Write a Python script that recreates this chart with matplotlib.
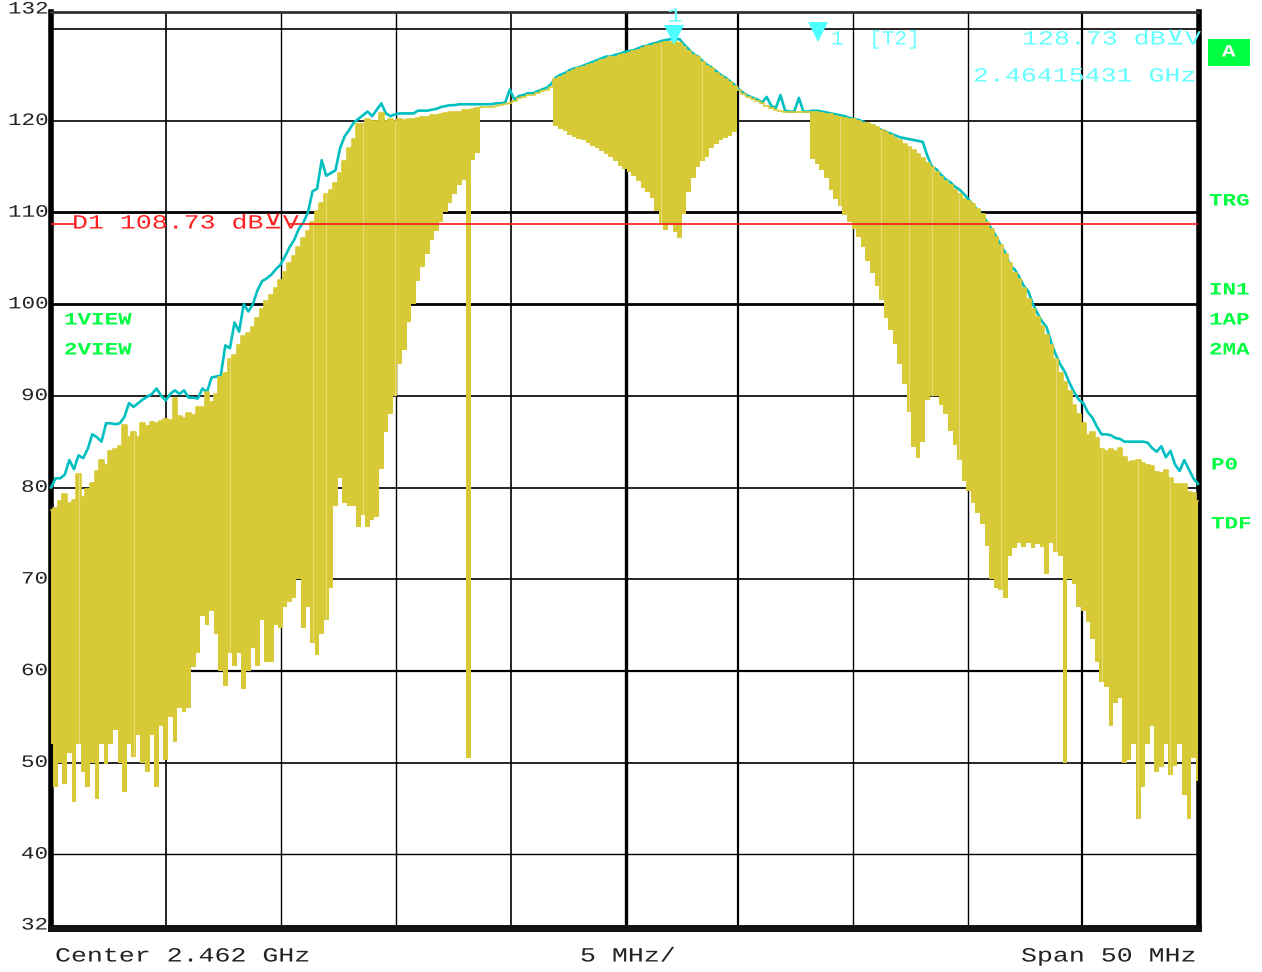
import numpy as np
import matplotlib
matplotlib.use('Agg')
import matplotlib.pyplot as plt
import matplotlib.patheffects as pe
from matplotlib.patches import Rectangle
from matplotlib.transforms import Affine2D

W, H = 1262, 972

# Trace 2 (clear write), upper edge of the sweep in dBuV, one value per 0.2 MHz
yellow_top = [
    77.5, 77.8, 78.5, 79.3, 78.3, 78.6, 81.5, 79, 79.8, 80.5,
    81.8, 83, 82.5, 84, 84.2, 84.5, 86.8, 85.5, 86, 85.5,
    87, 86.7, 87.1, 87, 87.3, 87.5, 87.4, 89.8, 87.8, 87.6,
    88.1, 87.9, 88.8, 88.8, 90.4, 89.3, 90.2, 92, 92.5, 94,
    94.5, 95.5, 96.5, 96.8, 97.5, 98.5, 99.5, 100.3, 101, 101.8,
    102.6, 103.5, 104.5, 105.3, 106.2, 107.2, 108, 109, 110.2, 111,
    112, 112.4, 113.2, 114.3, 115.6, 117, 118, 119.6, 119.6, 120.2,
    120, 120, 120.8, 120, 120.2, 120, 120.2, 120.1, 120.2, 120.2,
    120.3, 120.4, 120.4, 120.6, 120.6, 120.7, 120.8, 120.9, 121, 121,
    121.2, 121.2, 121.3, 121.4, 121.5, 121.5, 121.5, 121.6, 121.7, 121.8,
    121.9, 122.2, 122.5, 122.6, 122.8, 122.8, 123, 123.2, 123.3, 123.7,
    124.6, 124.8, 125, 125.3, 125.5, 125.7, 125.9, 126.1, 126.2, 126.4,
    126.6, 126.7, 126.9, 127, 127.2, 127.3, 127.4, 127.6, 127.7, 127.9,
    128.1, 128.2, 128.4, 128.5, 128.6, 128.6, 128.6, 128.5, 128, 127.6,
    127.2, 126.9, 126.4, 126, 125.7, 125.2, 124.9, 124.6, 124.2, 123.8,
    123.3, 122.9, 122.6, 122.4, 122.1, 121.9, 121.6, 121.4, 121.2, 121.1,
    121, 120.9, 120.9, 120.9, 120.9, 120.9, 121, 120.9, 120.8, 120.7,
    120.7, 120.5, 120.4, 120.3, 120.2, 120.2, 120, 119.8, 119.7, 119.5,
    119.3, 119, 118.8, 118.5, 118.1, 117.9, 117.5, 117.1, 116.8, 116.4,
    115.9, 115.4, 115, 114.4, 113.9, 113.4, 113, 112.5, 112, 111.5,
    111.2, 110.9, 110.4, 109.8, 109, 108.2, 107.3, 106.4, 105.5, 104.5,
    103.4, 102.7, 101.8, 100.6, 99.5, 98.6, 97.6, 96.6, 95.5, 94,
    92.5, 91.5, 90.5, 89, 88, 87, 85.7, 86, 85.4, 84.2,
    84, 84.2, 84, 84.3, 83.3, 82.8, 82.9, 83, 82.7, 82.5,
    82.3, 81.7, 81.6, 81.9, 81, 80.4, 80.4, 80.4, 79.5, 79.4,
    78.5]

# lower edge of the same sweep
yellow_bot = [
    52, 47.3, 50, 47.7, 51, 45.7, 52, 49, 47.3, 50,
    46, 52, 49.8, 52, 53.5, 50, 46.8, 52, 50.6, 53,
    50, 49, 53, 47.3, 54, 50.3, 55, 52.2, 56, 55.5,
    56, 60.4, 62, 66, 65, 66.5, 64, 60, 58.3, 62,
    60.5, 62, 58, 60, 62.5, 60.5, 65.5, 61, 61, 65,
    64.7, 67, 67.5, 68, 70, 64.7, 67, 63, 61.7, 64,
    65.6, 69, 78, 81, 78.3, 78, 78, 75.7, 77, 75.7,
    76.5, 76.8, 82, 86, 88, 90, 93.5, 95, 98, 100,
    102.5, 104, 105.5, 107, 108, 109, 110, 111, 112, 113,
    113.5, 50.5, 115.7, 116.5, 121.5, 121.5, 121.5, 121.6, 121.7, 121.8,
    121.9, 122.2, 122.5, 122.6, 122.8, 122.8, 123, 123.2, 123.3, 123.7,
    119.4, 119.1, 118.9, 118.4, 118.2, 118, 117.9, 117.6, 117.3, 117,
    116.7, 116.4, 116, 115.6, 115.1, 114.7, 114.4, 114, 113.4, 112.7,
    112.2, 111.6, 110.2, 108.9, 108.1, 108.6, 107.9, 107.2, 109.8, 112.2,
    113.8, 115, 115.6, 116.1, 117, 117.5, 117.9, 118.1, 118.3, 118.8,
    123.3, 122.9, 122.6, 122.4, 122.1, 121.9, 121.6, 121.4, 121.2, 121.1,
    121, 120.9, 120.9, 120.9, 120.9, 120.9, 115.8, 115.3, 114.6, 113.8,
    112.5, 111.5, 110.7, 109.7, 109, 108.2, 107.3, 106.2, 104.7, 103.4,
    102, 100.5, 98.5, 97.2, 95.7, 93.5, 91.3, 88.2, 84.4, 83.2,
    85, 89.5, 90, 90, 89, 88, 86.2, 84.6, 83, 80.7,
    79.6, 78.3, 77.2, 76, 73.6, 70, 69, 68.8, 68, 72.5,
    73.4, 73.9, 73.5, 73.9, 73.4, 73.8, 73.5, 70.6, 74, 73,
    72.5, 50, 70, 69.5, 67, 66.5, 65.3, 63.5, 61, 58.8,
    58.2, 54, 56.5, 57, 50, 50.3, 52, 43.8, 47.3, 52,
    54, 49, 49.5, 52, 48.6, 49.6, 52, 46.5, 43.8, 50.5,
    48]

# Trace 1 (max hold)
cyan_trace = [
    80, 81, 81, 81.4, 83, 82, 83.5, 83.2, 84.2, 85.8,
    85.5, 85, 87, 87, 86.9, 87, 87.7, 89.2, 88.8, 89.2,
    89.6, 89.9, 90.2, 90.8, 90, 89.5, 90.2, 90.6, 90.2, 90.6,
    89.8, 89.8, 89.7, 90.8, 90.4, 92, 92.1, 92.2, 95.5, 95.2,
    98, 97, 100, 99.2, 100, 101.5, 102.5, 102.8, 103.2, 103.8,
    104.3, 105.2, 106.2, 107, 108.2, 108.9, 110, 112.3, 112.6, 115.7,
    114, 114.3, 114.6, 117, 118.3, 119, 119.8, 120.2, 120.6, 121,
    120.5, 121.2, 121.9, 120.8, 120.5, 120.7, 120.8, 120.8, 120.8, 120.8,
    121.1, 121.1, 121.1, 121.2, 121.3, 121.5, 121.6, 121.7, 121.7, 121.8,
    121.8, 121.8, 121.8, 121.8, 121.8, 121.8, 121.8, 121.9, 121.9, 122,
    123.4, 122.3, 122.7, 122.8, 123, 123, 123.2, 123.4, 123.6, 124,
    124.7, 125, 125.2, 125.5, 125.7, 125.8, 126, 126.2, 126.4, 126.6,
    126.8, 127, 127, 127.2, 127.3, 127.5, 127.6, 127.7, 127.9, 128.1,
    128.2, 128.4, 128.5, 128.7, 128.8, 128.9, 128.9, 128.9, 128.3, 127.8,
    127.3, 127, 126.5, 126.1, 125.8, 125.4, 125, 124.7, 124.3, 123.9,
    123.4, 123, 122.7, 122.5, 122.3, 122, 122.6, 121.6, 121.4, 122.8,
    121.1, 121, 121, 122.5, 121, 121, 121.1, 121.1, 121, 120.9,
    120.8, 120.7, 120.6, 120.5, 120.3, 120.2, 120.1, 119.9, 119.6, 119.4,
    119.2, 119, 118.8, 118.6, 118.4, 118.2, 118.1, 118, 117.9, 117.8,
    117.7, 116.2, 115, 114.7, 114.1, 113.6, 113.3, 112.8, 112.5, 112,
    111.4, 110.8, 110.2, 109.7, 109, 108.2, 107.4, 106.4, 105.6, 104.2,
    103.8, 103, 102, 101.4, 100, 99, 98.1, 97.5, 95.8, 94.5,
    93.4, 92.6, 91.4, 90.4, 89.6, 89.2, 88.2, 87.6, 86.6, 85.8,
    85.8, 85.7, 85.4, 85.3, 85, 85, 85, 85, 85, 84.9,
    84.3, 83.9, 84.5, 83.3, 84, 82.5, 81.8, 83, 82, 81,
    80.4]

# sweep points where the fill shows a pale seam
seam_points = [6, 18, 39, 57, 60, 68, 75, 133, 142, 172, 181, 187, 192, 198, 207, 219, 229, 237, 244]

# Grid, offsets from the centre in MHz, levels in dBuV
vgrid = [-19.98, -14.97, -9.96, -4.95, 0.07, 4.95, 9.96, 14.97, 19.95]
vgrid_lw = [1.2, 1.0, 1.0, 1.2, 2.4, 1.6, 1.0, 1.0, 1.6]
hgrid = [130, 120, 110, 100, 90, 80, 70, 60, 50, 40]
hgrid_lw = [1.2, 1.2, 2.0, 2.0, 1.2, 1.2, 1.2, 1.6, 1.2, 1.0]
ylabels = [132, 120, 110, 100, 90, 80, 70, 60, 50, 40, 32]

display_line = 108.73
marker_f = 2.15431
marker_level = 128.73

freq = np.linspace(-25, 25, len(cyan_trace))


# the analyzer font is much wider than anything installed, so stretch the glyphs
class Stretch(pe.AbstractPathEffect):
    def __init__(self, sx):
        super().__init__()
        self.sx = sx

    def draw_path(self, renderer, gc, tpath, affine, rgbFace=None):
        renderer.draw_path(gc, tpath, Affine2D().scale(self.sx, 1) + affine, rgbFace)


def label(px, py, s, color, size=14.5, sx=1.32, weight='normal'):
    fig.text(px / W, 1 - (py + 1) / H, s, color=color, fontsize=size, fontweight=weight,
             family=['Liberation Mono', 'DejaVu Sans Mono', 'DejaVu Sans'],
             va='center', ha='left', path_effects=[Stretch(sx)])


fig = plt.figure(figsize=(W / 100, H / 100), dpi=100, facecolor='white')
ax = fig.add_axes([51 / W, 1 - 928 / H, 1147 / W, 916 / H])
ax.set_xlim(-25, 25)
ax.set_ylim(31.96, 131.86)
ax.set_xticks([])
ax.set_yticks([])

for f, lw in zip(vgrid, vgrid_lw):
    ax.axvline(f, color='black', lw=lw, zorder=1)
for y, lw in zip(hgrid, hgrid_lw):
    ax.axhline(y, color='black', lw=lw, zorder=1)

# frame
for side, lw, col in [('left', 4.0, 'black'), ('right', 4.0, 'black'),
                      ('top', 2.0, '#333333'), ('bottom', 5.0, '#111111')]:
    ax.spines[side].set_linewidth(lw)
    ax.spines[side].set_color(col)
    ax.spines[side].set_zorder(2)
ax.spines['right'].set_position(('outward', 1))

yellow = '#d8ca36'
ax.plot(freq, cyan_trace, color='#00bfc0', lw=1.9, zorder=3, clip_on=False)
ax.fill_between(freq, yellow_bot, yellow_top, step='mid', color=yellow, lw=0, zorder=4, clip_on=False)
ax.plot(freq, yellow_top, color=yellow, lw=1.2, zorder=4, clip_on=False, drawstyle='steps-mid')
ax.vlines(freq[seam_points], np.array(yellow_bot)[seam_points], np.array(yellow_top)[seam_points],
          color='#e6dc80', lw=0.7, zorder=4)

# display line, broken by its label
ax.plot([-25, -24.05], [display_line, display_line], color='#ff1818', lw=1.2, zorder=5)
ax.plot([-14.6, 25], [display_line, display_line], color='#ff1818', lw=1.2, zorder=5)

# markers
ax.plot([marker_f], [marker_level + 0.65], 'v', color='#4dffff', ms=14, mew=0, zorder=6, clip_on=False)
ax.plot([8.44], [129.65], 'v', color='#4dffff', ms=14, mew=0, zorder=6, clip_on=False)

for v in ylabels:
    py = 8 if v == 132 else 924 if v == 32 else 120.5 + (120 - v) * 9.17 - 1
    label(47 - 13 * len(str(v)), py, str(v), '#222222', size=12.5, sx=1.3)

cyan = '#66ffff'
label(667, 15, '1', cyan)
label(831, 38, '1  [T2]', cyan, sx=1.05)
label(1022, 38, '128.73 dB\u22bbV', cyan)
label(973, 75, '2.46415431 GHz', cyan)
label(72, 222, 'D1 108.73 dB\u22bbV', '#ff2020')

green = '#00ff40'
for px, py, s in [(64, 319, '1VIEW'), (64, 349, '2VIEW'), (1209, 200, 'TRG'), (1209, 289, 'IN1'),
                  (1209, 319, '1AP'), (1209, 349, '2MA'), (1211, 464, 'P0'), (1211, 523, 'TDF')]:
    label(px, py, s, green, size=12.5, sx=1.3, weight='bold')

fig.add_artist(Rectangle((1208 / W, 1 - 66 / H), 42 / W, 27 / H, transform=fig.transFigure,
                         facecolor=green, edgecolor='none'))
label(1222, 51, 'A', 'white', size=12.5, sx=1.3, weight='bold')

label(55, 955, 'Center 2.462 GHz', '#222222')
label(580, 955, '5 MHz/', '#222222')
label(1021, 955, 'Span 50 MHz', '#222222')

fig.savefig('out.png', dpi=100)
